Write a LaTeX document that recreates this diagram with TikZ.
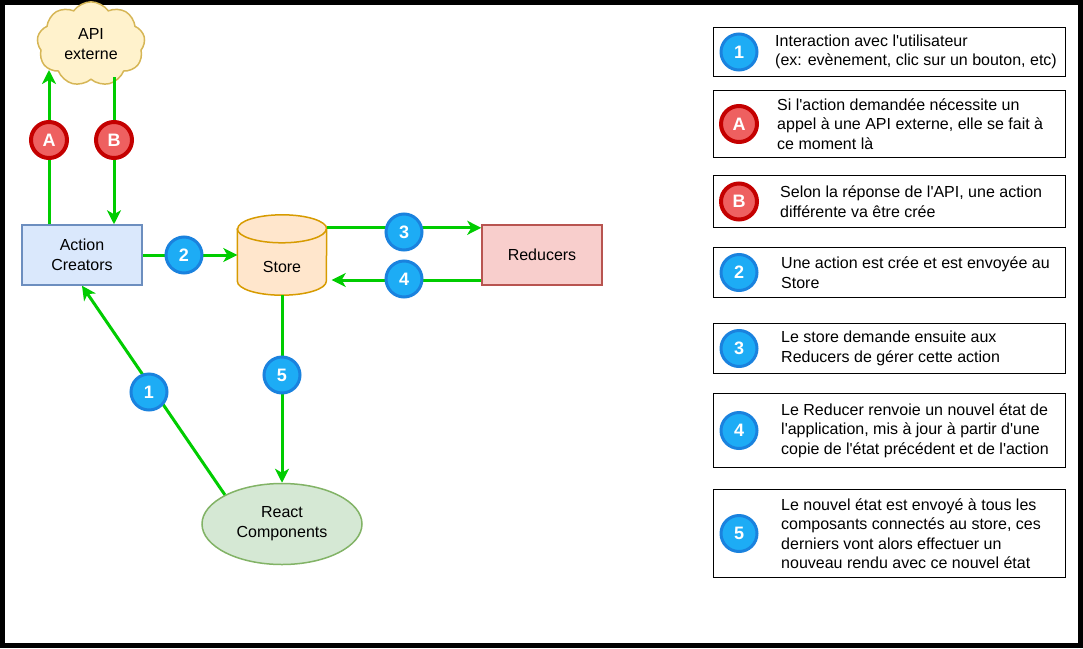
\documentclass[tikz,border=0pt]{standalone}
\usepackage{fontspec}
\setmainfont{Liberation Sans}[Ligatures=TeXOff]
\usepackage{xcolor}
\usepackage{tikz}
\usetikzlibrary{shapes,shapes.symbols,arrows.meta,positioning,calc}

\definecolor{flowgreen}{RGB}{0,204,0}
\definecolor{badgeblue}{RGB}{29,172,245}
\definecolor{ringblue}{RGB}{26,130,222}
\definecolor{badgered}{RGB}{238,96,96}
\definecolor{ringred}{RGB}{196,0,0}
\definecolor{creatorsfill}{HTML}{DAE8FC}
\definecolor{creatorsline}{HTML}{6C8EBF}
\definecolor{reducersfill}{HTML}{F8CECC}
\definecolor{reducersline}{HTML}{B85450}
\definecolor{storefill}{HTML}{FFE6CC}
\definecolor{storeline}{HTML}{D79B00}
\definecolor{reactfill}{HTML}{D5E8D4}
\definecolor{reactline}{HTML}{82B366}
\definecolor{apifill}{HTML}{FFF2CC}
\definecolor{apiline}{HTML}{D6B656}

\tikzset{
    flow/.style={draw=flowgreen, line width=3pt, -{Stealth[length=14pt, width=14pt, inset=4pt]}},
    badge/.style n args={3}{circle, fill=#1, draw=#2, line width=#3, minimum size=36pt, inner sep=0pt,
        text=white, font=\fontsize{18}{18}\selectfont\bfseries},
    bluebadge/.style={badge={badgeblue}{ringblue}{3pt}},
    redbadge/.style={badge={badgered}{ringred}{4pt}},
    block/.style={line width=1.5pt, align=center, font=\fontsize{16}{20}\selectfont},
    legendbox/.style={draw=black, line width=1pt, minimum width=352pt, anchor=north west},
    legendtext/.style={anchor=west, align=left, inner sep=0pt, font=\fontsize{16}{19.5}\selectfont},
}

\begin{document}
\begin{tikzpicture}[x=1pt, y=-1pt]
    \useasboundingbox (0,0) rectangle (1083,648);
    \draw [line width=5pt] (2.5,2.5) rectangle (1080.5,645.5);

    % Blocks
    \node [block, cloud, cloud puffs=9, cloud puff arc=110, draw=apiline, fill=apifill, minimum width=108pt, minimum height=64pt, inner sep=0pt] (api) at (91,44) {API\\externe};
    \node [block, draw=creatorsline, fill=creatorsfill, minimum width=120pt, minimum height=60pt] (creators) at (82,255) {Action\\Creators};
    \node [block, draw=reducersline, fill=reducersfill, minimum width=120pt, minimum height=60pt] (reducers) at (542,255) {Reducers};
    \node [block, ellipse, draw=reactline, fill=reactfill, minimum width=160pt, minimum height=81pt] (react) at (282,524) {React\\Components};

    % Store (cylinder)
    \node [minimum width=89pt, minimum height=80pt, inner sep=0pt] (store) at (282,255) {};
    \path [fill=storefill, draw=storeline, line width=1.5pt]
        ([yshift=-14pt]store.north west) -- ([yshift=14pt]store.south west)
        arc [start angle=180, end angle=360, x radius=44.5pt, y radius=14pt]
        -- ([yshift=-14pt]store.north east)
        arc [start angle=0, end angle=180, x radius=44.5pt, y radius=14pt] -- cycle;
    \draw [storeline, line width=1.5pt] ([yshift=-14pt]store.north west)
        arc [start angle=180, end angle=360, x radius=44.5pt, y radius=14pt];
    \node [block] (storetext) at ([yshift=-12pt]store.center) {Store};

    % Flow
    \coordinate (tagA) at (49,140);
    \coordinate (tagB) at (114,140);
    \coordinate (apiA) at ([yshift=-26pt]api.center);
    \coordinate (apiB) at ([yshift=-33pt]api.center);
    \coordinate (s3) at ([yshift=-13pt]store.north east);
    \coordinate (s4) at ([yshift=-25pt]reducers.west);

    \draw [flow] (creators.north -| tagA) -- (tagA |- apiA);
    \draw [flow] (tagB |- apiB) -- (tagB |- creators.north);
    \draw [flow] (creators.east) -- (store.west);
    \draw [flow] (s3) -- (s3 -| reducers.west);
    \draw [flow, shorten >=5pt] (s4) -- (s4 -| store.east);
    \draw [flow] (store.south) -- (react.north);
    \draw [flow] (react.north west) -- (creators.south);

    % Badges on the flow
    \node [redbadge] (A) at (tagA) {A};
    \node [redbadge] (B) at (tagB) {B};
    \node [bluebadge] (one) at (149,392) {1};
    \node [bluebadge] (two) at (184,255) {2};
    \node [bluebadge] (three) at (404,232) {3};
    \node [bluebadge] (four) at (404,279) {4};
    \node [bluebadge] (five) at (282,375) {5};

    % Legend
    \foreach \tag/\kind/\top/\hgt/\dx/\txt in {
        1/bluebadge/27/49/62/{Interaction avec l'utilisateur\\(ex: evènement, clic sur un bouton, etc)},
        A/redbadge/90/67/64/{Si l'action demandée nécessite un\\appel à une API externe, elle se fait à\\ce moment là},
        B/redbadge/175/52/67/{Selon la réponse de l'API, une action\\différente va être crée},
        2/bluebadge/247/50/68/{Une action est crée et est envoyée au\\Store},
        3/bluebadge/323/50/68/{Le store demande ensuite aux\\Reducers de gérer cette action},
        4/bluebadge/393/74/68/{Le Reducer renvoie un nouvel état de\\l'application, mis à jour à partir d'une\\copie de l'état précédent et de l'action},
        5/bluebadge/489/88/68/{Le nouvel état est envoyé à tous les\\composants connectés au store, ces\\derniers vont alors effectuer un\\nouveau rendu avec ce nouvel état}} {
        \node [legendbox, minimum height=\hgt pt] (leg\tag) at (713,\top) {};
        \node [\kind] (legtag\tag) at ([xshift=26pt]leg\tag.west) {\tag};
        \node [legendtext] (legtext\tag) at ([xshift=\dx pt]leg\tag.west) {\txt};
    }
\end{tikzpicture}
\end{document}
